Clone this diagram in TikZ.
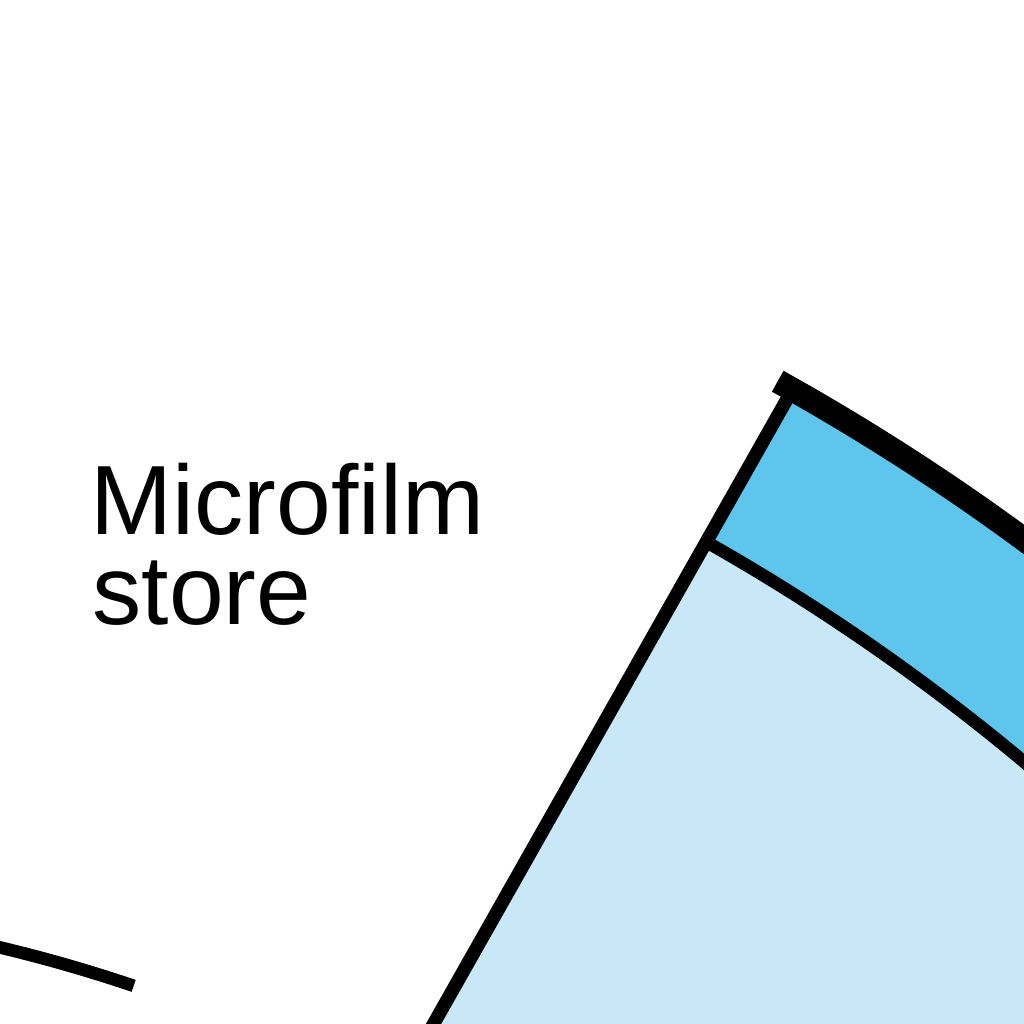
\documentclass[tikz,border=0pt]{standalone}
\usepackage{fontspec}
\setmainfont{Liberation Sans}
\definecolor{bandblue}{RGB}{94,197,236}
\definecolor{paleblue}{RGB}{200,231,247}
\begin{document}
\begin{tikzpicture}[
  outerline/.style={line width=6.8pt},
  innerline/.style={line width=3.6pt},
  radline/.style={line width=3.8pt},
  lbl/.style={anchor=base west, inner sep=0pt, font=\fontsize{28}{30}\selectfont}
]
\useasboundingbox (0,0) rectangle (10.24,10.24);
\clip (0,0) rectangle (10.24,10.24);
\fill[white] (0,0) rectangle (10.24,10.24);
\begin{scope}[shift={(-3.45,-13.76)}]
  \fill[paleblue] (60.5:12) -- (60.5:21.35) arc[start angle=60.5, end angle=35, radius=21.35]
    -- (35:12) arc[start angle=35, end angle=60.5, radius=12] -- cycle;
  \fill[bandblue] (60.5:21.35) -- (60.5:23.1) arc[start angle=60.5, end angle=35, radius=23.1]
    -- (35:21.35) arc[start angle=35, end angle=60.5, radius=21.35] -- cycle;
  \draw[innerline] (60.5:21.35) arc[start angle=60.5, end angle=38, radius=21.35];
  \draw[outerline] (60.92:23.1) arc[start angle=60.92, end angle=38, radius=23.1];
  \draw[radline] (60.5:14) -- (60.5:23.1);
  \draw[innerline] (71.3:14.93) arc[start angle=71.3, end angle=82, radius=14.93];
\end{scope}
\node[lbl] (l1) at (0.90,4.89) {Microfilm};
\node[lbl] (l2) at (0.92,3.99) {store};
\end{tikzpicture}
\end{document}
